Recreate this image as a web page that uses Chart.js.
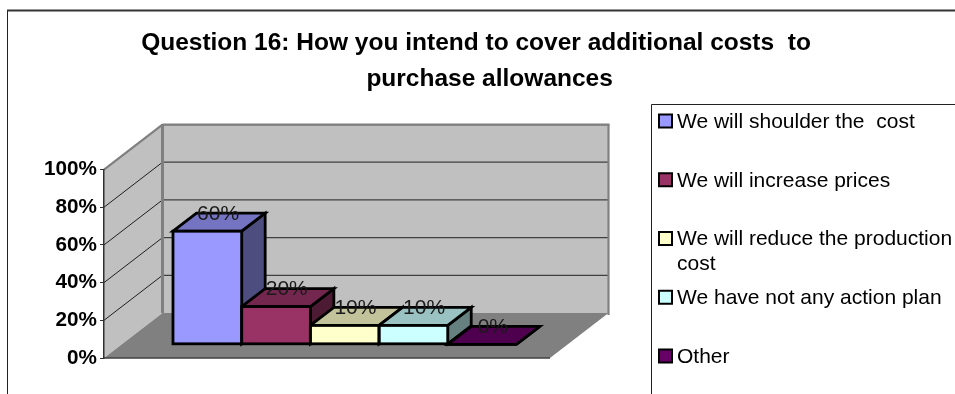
<!DOCTYPE html>
<html><head><meta charset="utf-8">
<style>html,body{margin:0;padding:0;background:#fff;overflow:hidden}canvas{display:block}</style>
<script src="https://cdn.jsdelivr.net/npm/chart.js@4"></script>
</head><body>
<div style="width:955px;height:394px;position:relative"><canvas id="c" width="955" height="394"></canvas></div>
<script>
const titleLines = ['Question 16: How you intend to cover additional costs  to', '    purchase allowances'];
const categories = [''];
const seriesNames = ['We will shoulder the  cost', 'We will increase prices', 'We will reduce the production', 'We have not any action plan', 'Other'];
const seriesNameExtra = ['', '', 'cost', '', ''];
const seriesValues = [60, 20, 10, 10, 0];
const seriesColors = ['#9999ff', '#993366', '#ffffcc', '#ccffff', '#660066'];
const gridValues = [20, 40, 60, 80, 100];

const WALL_DX = 58.5, WALL_DY = -45;
const BAR_OFFSET_X = 17.7, BAR_OFFSET_Y = -13.7;
const BAR_DEPTH_X = 23.5, BAR_DEPTH_Y = -18;
const FONT = '"Liberation Sans", Arial, sans-serif';

function shade(hex, f) {
  const n = parseInt(hex.slice(1), 16);
  return `rgb(${Math.round((n >> 16 & 255) * f)},${Math.round((n >> 8 & 255) * f)},${Math.round((n & 255) * f)})`;
}
function poly(ctx, pts, fill, stroke, lw) {
  ctx.beginPath();
  pts.forEach((p, i) => i ? ctx.lineTo(p[0], p[1]) : ctx.moveTo(p[0], p[1]));
  ctx.closePath();
  if (fill) { ctx.fillStyle = fill; ctx.fill(); }
  if (stroke) { ctx.strokeStyle = stroke; ctx.lineWidth = lw; ctx.lineJoin = 'miter'; ctx.stroke(); }
}
function line(ctx, x1, y1, x2, y2, color, lw) {
  ctx.beginPath(); ctx.moveTo(x1, y1); ctx.lineTo(x2, y2);
  ctx.strokeStyle = color; ctx.lineWidth = lw; ctx.stroke();
}
function bars(chart) {
  return chart.data.datasets.map((d, i) => {
    const el = chart.getDatasetMeta(i).data[0];
    return { i, x0: el.x - el.width / 2, x1: el.x + el.width / 2, y: el.y, base: el.base, cx: el.x };
  });
}

const scene3d = {
  id: 'scene3d',
  afterLayout(chart) {
    chart.titleBlock.left = 7;
    chart.titleBlock.right = 945;
  },
  beforeDraw(chart) {
    const { ctx, chartArea: a, scales: { y } } = chart;
    const top = y.getPixelForValue(100), bot = y.getPixelForValue(0);
    ctx.save();
    line(ctx, 7.5, 10, 7.5, 394, '#222', 1);
    line(ctx, 7, 10.5, 955, 10.5, '#333', 2);
    poly(ctx, [[a.left, top], [a.left + WALL_DX, top + WALL_DY], [a.left + WALL_DX, bot + WALL_DY], [a.left, bot]], '#c0c0c0');
    poly(ctx, [[a.left + WALL_DX, top + WALL_DY], [a.right + WALL_DX, top + WALL_DY], [a.right + WALL_DX, bot + WALL_DY], [a.left + WALL_DX, bot + WALL_DY]], '#c0c0c0');
    poly(ctx, [[a.left, bot], [a.right, bot], [a.right + WALL_DX, bot + WALL_DY], [a.left + WALL_DX, bot + WALL_DY]], '#808080');
    gridValues.forEach(v => {
      const p = y.getPixelForValue(v);
      line(ctx, a.left, p, a.left + WALL_DX, p + WALL_DY, '#202020', 1);
      line(ctx, a.left + WALL_DX, p + WALL_DY, a.right + WALL_DX, p + WALL_DY, '#404040', 1.3);
    });
    ctx.lineCap = 'butt';
    line(ctx, a.left, top, a.left + WALL_DX, top + WALL_DY, '#808080', 2.2);
    line(ctx, a.left + WALL_DX, top + WALL_DY, a.right + WALL_DX + 1, top + WALL_DY, '#808080', 2.2);
    line(ctx, a.left + WALL_DX, top + WALL_DY, a.left + WALL_DX, bot + WALL_DY, '#808080', 3);
    line(ctx, a.right + WALL_DX, top + WALL_DY, a.right + WALL_DX, bot + WALL_DY + 2, '#808080', 2.2);
    line(ctx, a.left, bot, a.right, bot, '#404040', 1.5);
    ctx.restore();
    drawLegend(chart);
  },
  beforeDatasetsDraw(chart) {
    const { ctx } = chart;
    ctx.save();
    ctx.translate(BAR_OFFSET_X, BAR_OFFSET_Y);
    bars(chart).forEach(b => {
      const c = seriesColors[b.i], dx = BAR_DEPTH_X, dy = BAR_DEPTH_Y;
      poly(ctx, [[b.x1, b.y], [b.x1 + dx, b.y + dy], [b.x1 + dx, b.base + dy], [b.x1, b.base]], shade(c, .5), '#000', 2.8);
      poly(ctx, [[b.x0, b.y], [b.x1, b.y], [b.x1 + dx, b.y + dy], [b.x0 + dx, b.y + dy]], shade(c, .76), '#000', 2.8);
    });
  },
  afterDatasetsDraw(chart) {
    const { ctx } = chart;
    bars(chart).forEach(b => {
      ctx.strokeStyle = '#000'; ctx.lineWidth = 2.8;
      ctx.strokeRect(b.x0, b.y, b.x1 - b.x0, b.base - b.y);
    });
    ctx.restore();
    ctx.save();
    ctx.font = '21px ' + FONT;
    ctx.fillStyle = '#1a1a1a'; ctx.textAlign = 'center'; ctx.textBaseline = 'middle';
    bars(chart).forEach(b => {
      ctx.fillText(seriesValues[b.i] + '%', b.cx + BAR_OFFSET_X + BAR_DEPTH_X / 2 - 1, b.y + BAR_OFFSET_Y + BAR_DEPTH_Y + 1);
    });
    ctx.restore();
  }
};

function drawLegend(chart) {
  const { ctx } = chart;
  const boxL = 651.5, boxT = 104.5, first = 121, step = 58.75;
  ctx.save();
  line(ctx, boxL, boxT, boxL, 394, '#222', 1);
  line(ctx, boxL, boxT, 955, boxT, '#222', 1);
  ctx.font = '21px ' + FONT; ctx.textBaseline = 'middle'; ctx.textAlign = 'left';
  seriesNames.forEach((name, i) => {
    const cy = first + step * i;
    ctx.fillStyle = seriesColors[i];
    ctx.fillRect(659, cy - 6.5, 13, 13);
    ctx.strokeStyle = '#000'; ctx.lineWidth = 2;
    ctx.strokeRect(659, cy - 6.5, 13, 13);
    ctx.fillStyle = '#000';
    ctx.fillText(name, 677, cy + 1);
    if (seriesNameExtra[i]) ctx.fillText(seriesNameExtra[i], 677, cy + 26);
  });
  ctx.restore();
}

new Chart(document.getElementById('c'), {
  type: 'bar',
  data: {
    labels: categories,
    datasets: seriesNames.map((n, i) => ({
      label: seriesNameExtra[i] ? n + ' ' + seriesNameExtra[i] : n,
      data: [seriesValues[i]],
      backgroundColor: seriesColors[i],
      borderWidth: 0,
      minBarLength: 0
    }))
  },
  options: {
    responsive: false,
    animation: false,
    layout: { padding: { left: 0, top: 0, right: 405, bottom: 36 } },
    datasets: { bar: { categoryPercentage: 0.77, barPercentage: 1 } },
    plugins: {
      legend: { display: false },
      tooltip: { enabled: false },
      title: {
        display: true,
        text: titleLines,
        color: '#000',
        font: { family: FONT, size: 24.5, weight: 'bold', lineHeight: 1.47 },
        padding: { top: 25, bottom: 72.5 }
      }
    },
    scales: {
      x: { display: false },
      y: {
        min: 0, max: 100,
        afterFit(s) { s.width = 104; s.paddingTop = 0; s.paddingBottom = 0; },
        ticks: {
          stepSize: 20, padding: 3, color: '#000',
          font: { family: FONT, size: 20.7, weight: 'bold' },
          callback: v => v + '%'
        },
        border: { color: '#303030', width: 1.5 },
        grid: { drawOnChartArea: false, tickLength: 4, color: '#303030', lineWidth: 1 }
      }
    }
  },
  plugins: [scene3d]
});
</script>
</body></html>
